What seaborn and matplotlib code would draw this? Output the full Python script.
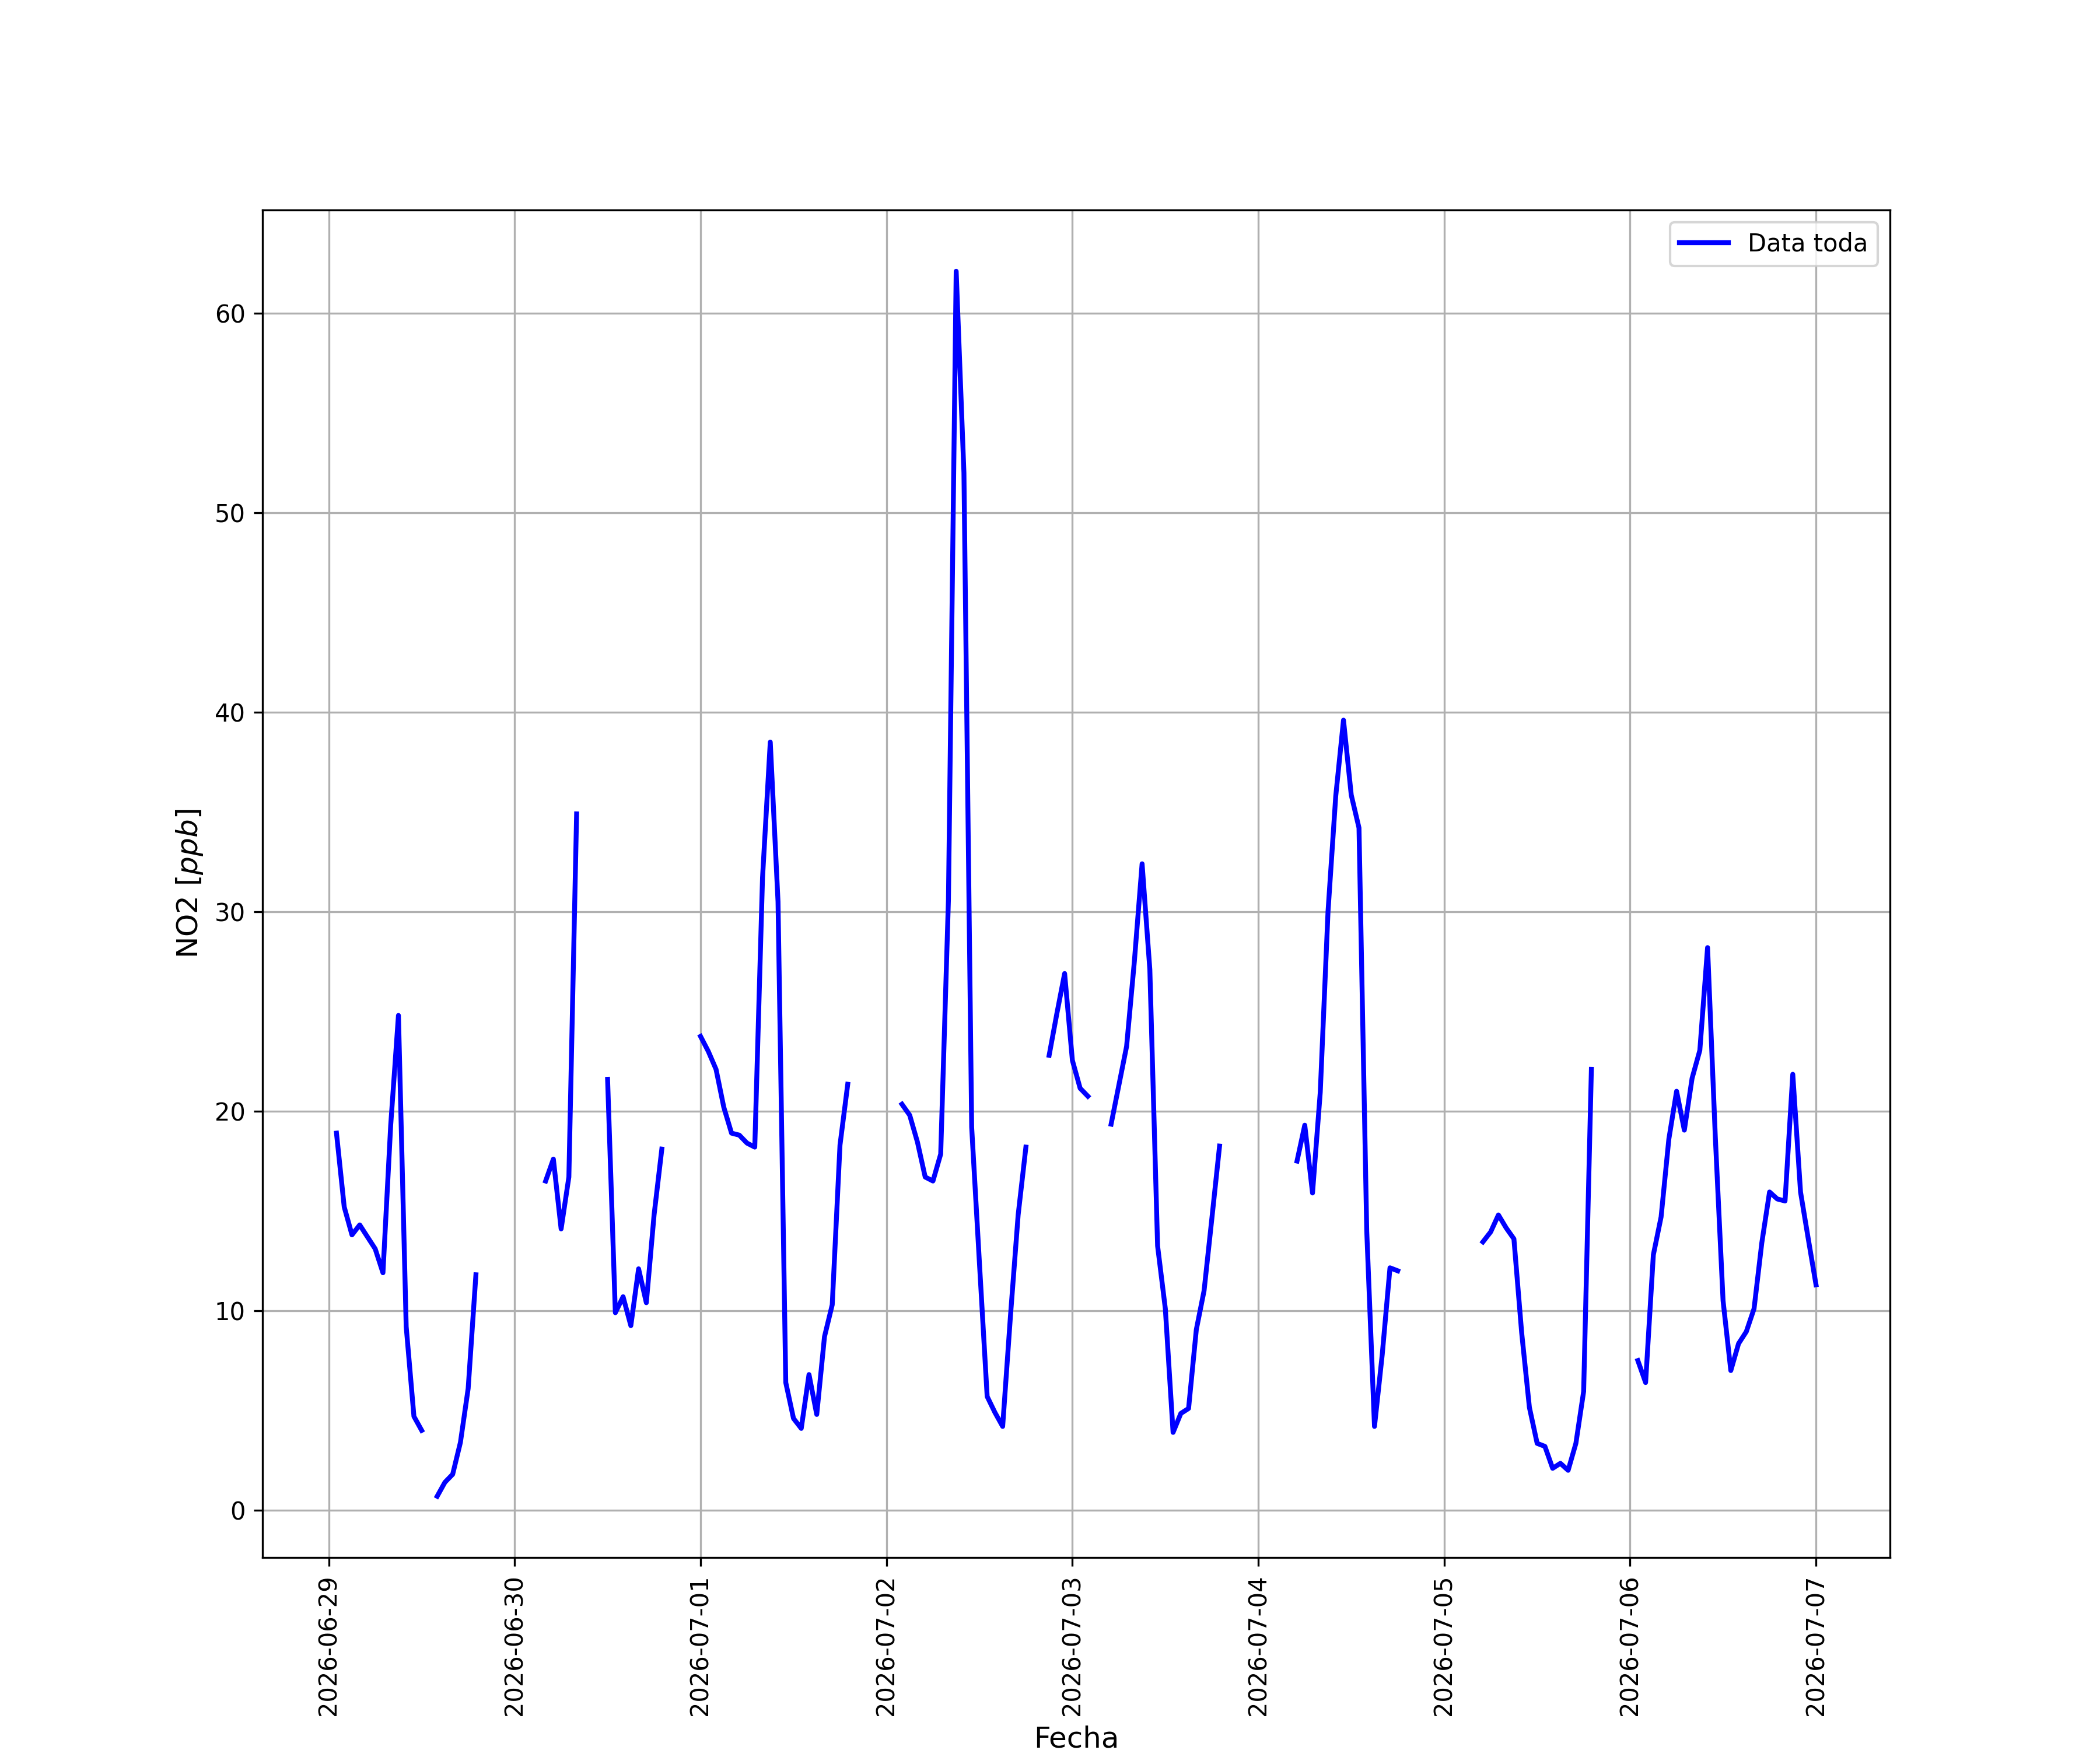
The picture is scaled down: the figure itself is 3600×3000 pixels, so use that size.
import pandas as pd
import seaborn as sns
import matplotlib
matplotlib.use('Agg')
import matplotlib.pyplot as plt
import matplotlib.dates as mdates
import numpy as np

nan = np.nan

# hourly NO2 [ppb], hours 00..23 for each day (nan = missing)
no2_0629 = [nan, 18.9, 15.2, 13.8, 14.3, 13.7, 13.1, 11.9, 19.3, 24.8, 9.2, 4.7,
            4.0, nan, 0.7, 1.4, 1.8, 3.4, 6.1, 11.8, nan, nan, nan, nan]
no2_0630 = [nan, nan, nan, nan, 16.5, 17.6, 14.1, 16.7, 34.9, nan, nan, nan,
            21.6, 9.9, 10.7, 9.25, 12.1, 10.4, 14.8, 18.1, nan, nan, nan, nan]
no2_0701 = [23.75, 23.0, 22.1, 20.2, 18.9, 18.8, 18.4, 18.2, 31.7, 38.5, 30.5, 6.4,
            4.6, 4.1, 6.8, 4.8, 8.7, 10.3, 18.3, 21.35, nan, nan, nan, nan]
no2_0702 = [nan, nan, 20.35, 19.8, 18.45, 16.7, 16.5, 17.85, 30.6, 62.1, 52.0, 19.2,
            12.4, 5.7, 4.9, 4.2, 9.7, 14.8, 18.2, nan, nan, 22.8, 24.9, 26.9]
no2_0703 = [22.55, 21.15, 20.75, nan, nan, 19.35, 21.3, 23.25, 27.5, 32.4, 27.1, 13.25,
            10.1, 3.9, 4.85, 5.1, 9.05, 11.0, 14.6, 18.25, nan, nan, nan, nan]
no2_0704 = [nan, nan, nan, nan, nan, 17.5, 19.3, 15.9, 20.95, 30.0, 35.8, 39.6,
            35.85, 34.2, 14.0, 4.2, 7.8, 12.15, 12.0, nan, nan, nan, nan, nan]
no2_0705 = [nan, nan, nan, nan, nan, 13.45, 13.95, 14.8, 14.15, 13.6, 8.9, 5.15,
            3.35, 3.2, 2.1, 2.35, 2.0, 3.35, 5.95, 22.1, nan, nan, nan, nan]
no2_0706 = [nan, 7.5, 6.4, 12.8, 14.7, 18.6, 21.0, 19.05, 21.65, 23.05, 28.2, 18.7,
            10.5, 7.0, 8.35, 8.95, 10.1, 13.4, 15.95, 15.6, 15.5, 21.85, 15.95, 13.6]
no2_0707 = [11.3]

valores = (no2_0629 + no2_0630 + no2_0701 + no2_0702 + no2_0703 +
           no2_0704 + no2_0705 + no2_0706 + no2_0707)
fechas = pd.date_range('2026-06-29 00:00', periods=len(valores), freq='h')

df = pd.DataFrame({'Fecha': fechas, 'NO2': valores})
df = df.iloc[1:]  # serie empieza a la 01:00

# tramos continuos (los huecos cortan la linea)
df['tramo'] = df['NO2'].isna().cumsum()
df = df.dropna()

fig, ax = plt.subplots(figsize=(12, 10), dpi=300)

sns.lineplot(data=df, x='Fecha', y='NO2', units='tramo', estimator=None,
             color='blue', linewidth=2, ax=ax)

handles = ax.get_lines()[:1]
ax.legend(handles, ['Data toda'], loc='upper right')

ax.xaxis.set_major_locator(mdates.DayLocator())
ax.xaxis.set_major_formatter(mdates.DateFormatter('%Y-%m-%d'))
plt.setp(ax.get_xticklabels(), rotation=90)

ax.set_xlabel('Fecha', fontsize=12)
ax.set_ylabel('NO2 [$ppb$]', fontsize=12)
ax.grid(True)

fig.savefig('out.png')
